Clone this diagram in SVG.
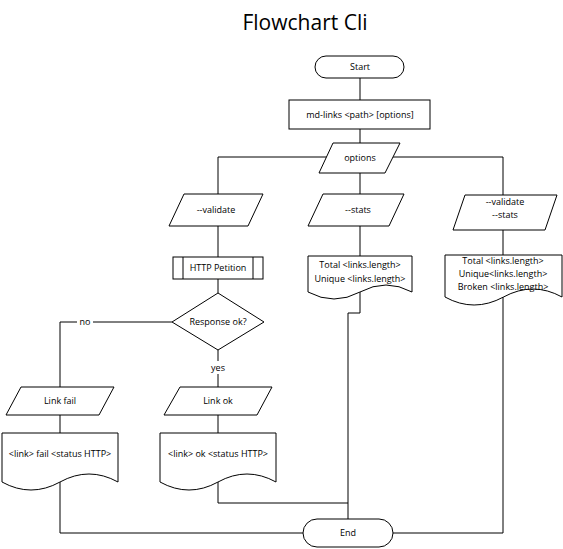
<svg xmlns="http://www.w3.org/2000/svg" width="563" height="549" viewBox="0 0 563 549">
<style>
.s{fill:#fff;stroke:#000;stroke-width:1}
.c{fill:none;stroke:#000;stroke-width:1}
text{font-family:"Open Sans","DejaVu Sans",sans-serif;font-size:9px;fill:#000;text-anchor:middle}
.t{font-size:21px}
</style>
<rect width="563" height="549" fill="#fff"/>
<text class="t" x="305" y="30">Flowchart Cli</text>
<g id="connectors">
<path class="c" d="M360,78 V100"/>
<path class="c" d="M360,129 V143"/>
<path class="c" d="M218,194 V157 H503 V195"/>
<path class="c" d="M360,173 V194"/>
<path class="c" d="M218,226 V257"/>
<path class="c" d="M218,279 V293"/>
<path class="c" d="M172,322 H60 V387"/>
<path class="c" d="M218,350 V387"/>
<path class="c" d="M60,415 V433"/>
<path class="c" d="M218,415 V433"/>
<path class="c" d="M60,482 V533 H303"/>
<path class="c" d="M218,482 V503 H348"/>
<path class="c" d="M360,226 V256"/>
<path class="c" d="M360,292 V313 H348 V519"/>
<path class="c" d="M503,230 V255"/>
<path class="c" d="M503,297 V533 H393"/>
<rect x="77" y="316" width="16" height="12" fill="#fff"/>
<text x="85" y="325">no</text>
<rect x="208" y="361" width="20" height="13" fill="#fff"/>
<text x="218" y="371">yes</text>
</g>
<g id="start">
<rect class="s" x="315" y="56" width="89" height="22" rx="11"/>
<text x="360" y="70">Start</text>
</g>
<g id="mdlinks">
<rect class="s" x="289" y="100" width="141" height="29"/>
<text x="360" y="118">md-links &lt;path&gt; [options]</text>
</g>
<g id="options">
<polygon class="s" points="333,143 400,143 385,173 319,173"/>
<text x="360" y="161">options</text>
</g>
<g id="validate">
<polygon class="s" points="184,194 263,194 248,226 169,226"/>
<text x="216" y="213">--validate</text>
</g>
<g id="stats">
<polygon class="s" points="323,194 404,194 389,226 308,226"/>
<text x="358" y="213">--stats</text>
</g>
<g id="validatestats">
<polygon class="s" points="465,195 557,195 545,230 453,230"/>
<text x="505" y="205">--validate</text>
<text x="505" y="218">--stats</text>
</g>
<g id="http">
<rect class="s" x="173" y="257" width="90" height="22"/>
<path class="c" d="M183,257 V279 M253,257 V279"/>
<text x="218" y="271">HTTP Petition</text>
</g>
<g id="statsdoc">
<path class="s" d="M308,256 H412 V292 Q386,278 360,292 T308,292 Z"/>
<text x="360" y="268">Total &lt;links.length&gt;</text>
<text x="360" y="282">Unique &lt;links.length&gt;</text>
</g>
<g id="vsdoc">
<path class="s" d="M445,255 H562 V297 Q533,281 503.5,297 T445,297 Z"/>
<text x="503" y="264">Total &lt;links.length&gt;</text>
<text x="503" y="277">Unique&lt;links.length&gt;</text>
<text x="503" y="290">Broken &lt;links.length&gt;</text>
</g>
<g id="response">
<polygon class="s" points="218,293 264,322 218,350 172,322"/>
<text x="218" y="325">Response ok?</text>
</g>
<g id="linkfail">
<polygon class="s" points="21,387 114,387 99,415 6,415"/>
<text x="60" y="404">Link fail</text>
</g>
<g id="linkok">
<polygon class="s" points="180,387 272,387 257,415 164,415"/>
<text x="218" y="404">Link ok</text>
</g>
<g id="faildoc">
<path class="s" d="M2,433 H118 V482 Q89,466 60,482 T2,482 Z"/>
<text x="60" y="457">&lt;link&gt; fail &lt;status HTTP&gt;</text>
</g>
<g id="okdoc">
<path class="s" d="M160,433 H276 V482 Q247,466 218,482 T160,482 Z"/>
<text x="218" y="457">&lt;link&gt; ok &lt;status HTTP&gt;</text>
</g>
<g id="end">
<rect class="s" x="303" y="519" width="90" height="28" rx="14"/>
<text x="348" y="536">End</text>
</g>
</svg>
